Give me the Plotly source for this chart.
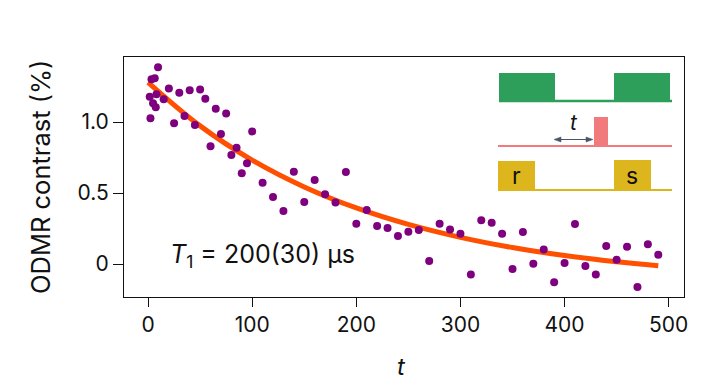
import plotly.graph_objects as go

# ---- data ----
t_us = [1.6, 2.3, 3.3, 4.8, 6.4, 7.4, 8.1, 9.6,
        15, 20, 25, 30, 35, 40, 45, 50, 55, 60, 65, 70, 75, 80, 85, 90, 95, 100,
        110, 120, 130, 140, 150, 160, 170, 180, 190, 200, 210, 220, 230, 240,
        250, 260, 270, 280, 290, 300, 310, 320, 330, 340, 350, 360, 370, 380,
        390, 400, 410, 420, 430, 440, 450, 460, 470, 480, 490]
contrast = [1.178, 1.026, 1.301, 1.132, 1.308, 1.104, 1.195, 1.385,
            1.160, 1.237, 0.991, 1.206, 1.042, 1.223, 0.979, 1.230, 1.164, 0.829,
            1.094, 0.915, 1.061, 0.768, 0.819, 0.639, 0.709, 0.934,
            0.573, 0.472, 0.373, 0.650, 0.437, 0.592, 0.491, 0.434, 0.648, 0.284,
            0.380, 0.268, 0.254, 0.197, 0.228, 0.239, 0.021, 0.284, 0.244, 0.214,
            -0.073, 0.308, 0.291, 0.214, -0.035, 0.225, 0.002, 0.103, -0.129, 0.007,
            0.282, -0.014, -0.073, 0.127, 0.030, 0.122, -0.162, 0.139, 0.065]

fit_t = [0, 50, 100, 150, 200, 250, 300, 350, 400, 450, 490]
fit_c = [1.280, 0.973, 0.732, 0.543, 0.395, 0.279, 0.188, 0.116, 0.060, 0.016, -0.012]

x_ticks = [0, 100, 200, 300, 400, 500]
y_ticks = [0, 0.5, 1.0]
y_tick_labels = ["0", "0.5", "1.0"]

# ---- layout geometry (pixels; page body adds an 8 px offset) ----
OFF = 8
W, H = 703 - OFF, 381 - OFF
ML, MT = 124 - OFF, 57 - OFF
PW, PH = 560, 240
MR, MB = W - ML - PW, H - MT - PH


def px(x):
    # screen pixel x -> paper
    return (x - OFF - ML) / PW


def py(y):
    # screen pixel y -> paper
    return (MT + PH - (y - OFF)) / PH


FONT = "Inter"
GREEN = "#2E9E5B"
PINK = "#F07A7C"
GOLD = "#DDB51C"
ARROW = "#4A5566"

fig = go.Figure()
fig.add_trace(go.Scatter(x=fit_t, y=fit_c, mode="lines", line_shape="spline",
                         line=dict(color="#FF4F00", width=5), hoverinfo="skip"))
fig.add_trace(go.Scatter(x=t_us, y=contrast, mode="markers",
                         marker=dict(color="#7E007E", size=8)))

shapes = []


def rect(x0, y0, x1, y1, color):
    shapes.append(dict(type="rect", xref="paper", yref="paper",
                       x0=px(x0), x1=px(x1), y0=py(y1), y1=py(y0),
                       fillcolor=color, line=dict(width=0), layer="above"))


def hline(x0, x1, y, color, w=2):
    shapes.append(dict(type="line", xref="paper", yref="paper",
                       x0=px(x0), x1=px(x1), y0=py(y), y1=py(y),
                       line=dict(color=color, width=w), layer="above"))


def tri(points, color):
    d = "M " + " L ".join(f"{px(a):.5f},{py(b):.5f}" for a, b in points) + " Z"
    shapes.append(dict(type="path", xref="paper", yref="paper", path=d,
                       fillcolor=color, line=dict(color=color, width=0.5),
                       layer="above"))


# green channel
hline(499, 672, 101, GREEN, 2.5)
rect(499, 73, 555, 102, GREEN)
rect(614, 73, 670, 102, GREEN)
# pink channel
hline(498, 672, 146, PINK, 2)
rect(594, 117, 608, 146, PINK)
# gold channel
hline(498, 672, 190, GOLD, 2)
rect(498, 161, 535, 191, GOLD)
rect(614, 160, 651, 191, GOLD)
# double arrow for t
hline(557, 590, 139.5, ARROW, 1.2)
tri([(554, 139.5), (561, 137), (561, 142)], ARROW)
tri([(593, 139.5), (586, 137), (586, 142)], ARROW)


def label(x, y, text, size, xanchor="center", angle=0):
    return dict(xref="paper", yref="paper", x=px(x), y=py(y), text=text,
                xanchor=xanchor, yanchor="middle", textangle=angle,
                showarrow=False, font=dict(family=FONT, size=size, color="#111"))


annotations = [
    label(574, 122, "<i>t</i>", 21),
    label(516, 176, "r", 23),
    label(632, 176, "s", 23),
    label(168, 255, "<i>T</i><sub>1</sub> = 200(30) µs", 25, xanchor="left"),
    # axis titles
    label(401, 366, "<i>t</i>", 24),
    label(40, 177, "ODMR contrast (%)", 25.5, angle=-90),
]

fig.update_layout(
    width=W, height=H,
    margin=dict(l=ML, r=MR, t=MT, b=MB, autoexpand=False),
    paper_bgcolor="white", plot_bgcolor="white",
    showlegend=False,
    font=dict(family=FONT, size=21, color="#111"),
    shapes=shapes, annotations=annotations,
    xaxis=dict(range=[-23.1, 514.7], tickvals=x_ticks, ticks="outside",
               ticklen=9, tickcolor="#111", showgrid=False, zeroline=False,
               showline=True, linecolor="#111", linewidth=1.2, mirror=True,
               tickfont=dict(size=21), automargin=False),
    yaxis=dict(range=[-0.232, 1.458], tickvals=y_ticks, ticktext=y_tick_labels,
               ticks="outside", ticklen=10, tickcolor="#111", showgrid=False,
               zeroline=False, showline=True, linecolor="#111", linewidth=1.2,
               mirror=True, tickfont=dict(size=21), automargin=False),
)

fig.write_html("out.html")
